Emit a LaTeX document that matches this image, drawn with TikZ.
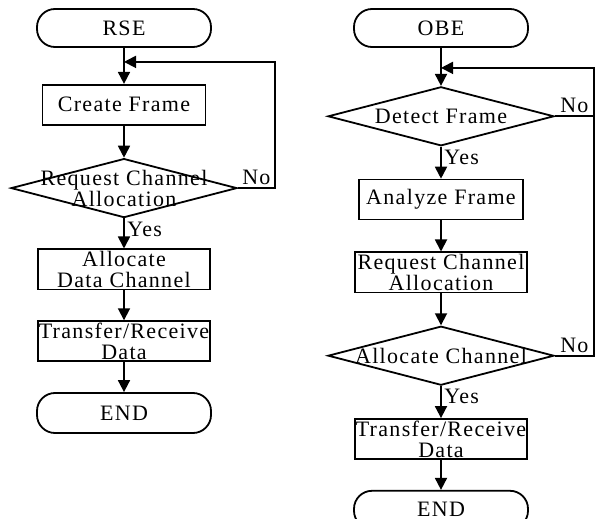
\documentclass[tikz,border=0pt]{standalone}
\usepackage{fontspec}
\setmainfont{Liberation Serif}[LetterSpace=6]
\usepackage{tikz}
\usetikzlibrary{shapes.geometric, arrows.meta, positioning}

\begin{document}
\begin{tikzpicture}[
  node distance=16pt,
  font=\fontsize{11}{10.5}\selectfont,
  line width=0.9pt,
  terminal/.style={rectangle, draw, rounded corners=9pt, minimum width=87pt, minimum height=19pt, inner sep=0pt},
  box/.style={rectangle, draw, minimum width=86pt, minimum height=20pt, inner xsep=0pt, inner ysep=0.5pt, align=center},
  decision/.style={diamond, draw, minimum width=113pt, minimum height=29.5pt, inner sep=0pt},
  tag/.style={inner sep=1.2pt},
  arrow/.style={-{Triangle[length=6pt, width=6pt]}}
]
  \useasboundingbox (0,0) rectangle (297.5pt,-259.5pt);

  % RSE side
  \node[terminal] (rse) at (62pt,-14pt) {RSE};
  \coordinate[below=7pt of rse] (ljoin);
  \node[box, minimum width=81.5pt, below=18pt of rse] (create) {Create Frame};
  \node[decision, below=of create] (reqdec) {};
  \node[align=center] (reqtxt) at (reqdec) {Request Channel\\Allocation};
  \node[box, below=15pt of reqdec] (allocdata) {Allocate\\Data Channel};
  \node[box, below=15pt of allocdata] (ltrans) {Transfer/Receive\\Data};
  \node[terminal, minimum height=20pt, below=15pt of ltrans] (lend) {END};
  \coordinate[right=18.5pt of reqdec.east] (lback);

  % OBE side
  \node[terminal] (obe) at (220.5pt,-14pt) {OBE};
  \coordinate[below=10pt of obe] (rjoin);
  \node[decision, below=19pt of obe] (detdec) {};
  \node (dettxt) at (detdec) {Detect Frame};
  \node[box, minimum width=82pt, below=of detdec] (analyze) {Analyze Frame};
  \node[box, below=15.5pt of analyze] (reqbox) {Request Channel\\Allocation};
  \node[decision, below=of reqbox] (allocdec) {};
  \node (alloctxt) at (allocdec) {Allocate Channel};
  \node[box, below=of allocdec] (rtrans) {Transfer/Receive\\Data};
  \node[terminal, below=15pt of rtrans] (rend) {END};
  \coordinate[right=19.5pt of allocdec.east] (rback);

  \draw[arrow] (rse) -- (create);
  \draw[arrow] (create) -- (reqdec);
  \draw[arrow] (reqdec) -- node[tag, anchor=north west, pos=0] (lyes) {Yes} (allocdata);
  \draw[arrow] (allocdata) -- (ltrans);
  \draw[arrow] (ltrans) -- (lend);
  \draw[arrow] (reqdec.east) -- node[tag, above] (lno) {No} (lback) |- (ljoin);

  \draw[arrow] (obe) -- (detdec);
  \draw (detdec.east) -- node[tag, above] (rno1) {No} (detdec.east -| rback);
  \draw[arrow] (detdec) -- node[tag, anchor=north west, pos=0] (ryes1) {Yes} (analyze);
  \draw[arrow] (analyze) -- (reqbox);
  \draw[arrow] (reqbox) -- (allocdec);
  \draw[arrow] (allocdec) -- node[tag, anchor=north west, pos=0] (ryes2) {Yes} (rtrans);
  \draw[arrow] (rtrans) -- (rend);
  \draw[arrow] (allocdec.east) -- node[tag, above] (rno2) {No} (rback) |- (rjoin);
\end{tikzpicture}
\end{document}
